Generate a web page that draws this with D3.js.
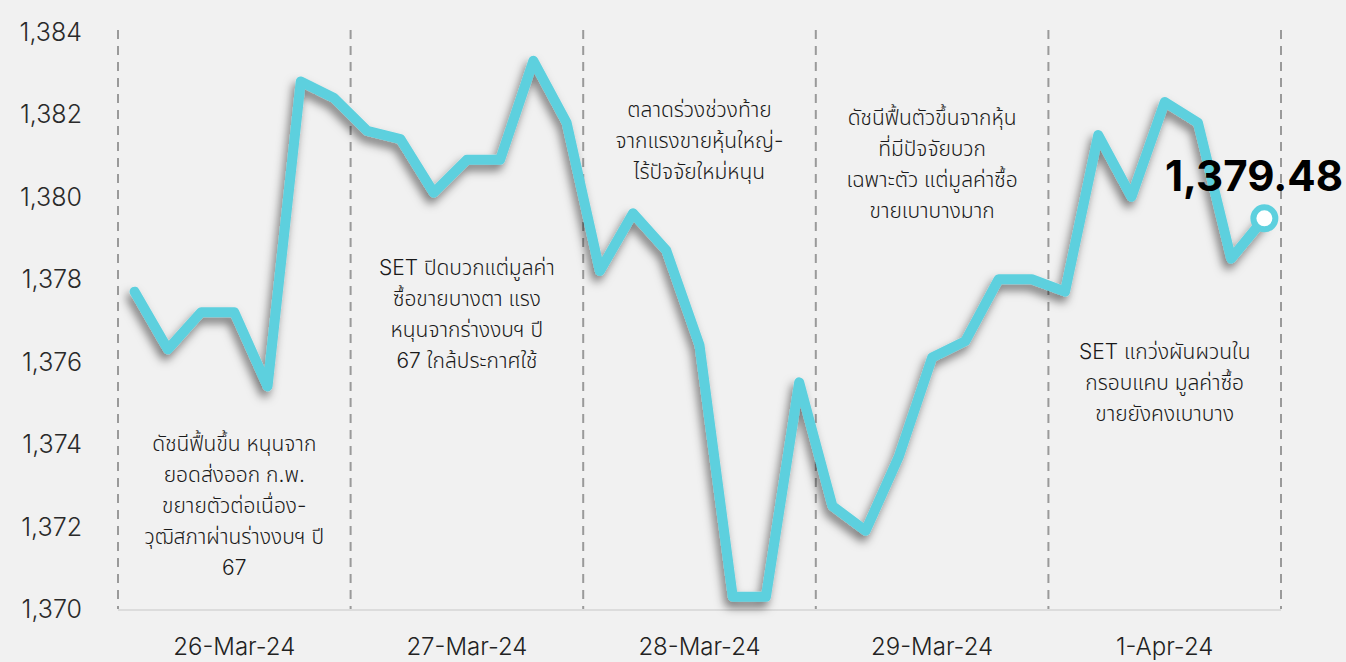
<!DOCTYPE html>
<html>
<head>
<meta charset="utf-8">
<script src="https://cdn.jsdelivr.net/npm/d3@7"></script>
<style>
  body { margin: 0; background: #f1f1f1; }
  svg { display: block; font-family: Inter, "Noto Sans Thai", "Noto Sans", sans-serif; }
</style>
</head>
<body>
<div id="chart"></div>
<script>
// trading days and SET index readings (7 per day)
const days = ["26-Mar-24", "27-Mar-24", "28-Mar-24", "29-Mar-24", "1-Apr-24"];
const setIndex = [
  1377.7, 1376.3, 1377.2, 1377.2, 1375.4, 1382.8, 1382.4,
  1381.6, 1381.4, 1380.1, 1380.9, 1380.9, 1383.3, 1381.8,
  1378.2, 1379.6, 1378.7, 1376.4, 1370.3, 1370.3, 1375.5,
  1372.5, 1371.9, 1373.7, 1376.1, 1376.5, 1378.0, 1378.0,
  1377.7, 1381.5, 1380.0, 1382.3, 1381.8, 1378.5, 1379.48
];
const yTicks = [1370, 1372, 1374, 1376, 1378, 1380, 1382, 1384];
const lastLabel = "1,379.48";
const notes = [
  ["ดัชนีฟื้นขึ้น หนุนจาก", "ยอดส่งออก ก.พ.", "ขยายตัวต่อเนื่อง-", "วุฒิสภาผ่านร่างงบฯ ปี", "67"],
  ["SET ปิดบวกแต่มูลค่า", "ซื้อขายบางตา แรง", "หนุนจากร่างงบฯ ปี", "67 ใกล้ประกาศใช้"],
  ["ตลาดร่วงช่วงท้าย", "จากแรงขายหุ้นใหญ่-", "ไร้ปัจจัยใหม่หนุน"],
  ["ดัชนีฟื้นตัวขึ้นจากหุ้น", "ที่มีปัจจัยบวก", "เฉพาะตัว แต่มูลค่าซื้อ", "ขายเบาบางมาก"],
  ["SET แกว่งผันผวนใน", "กรอบแคบ มูลค่าซื้อ", "ขายยังคงเบาบาง"]
];

const width = 1346, height = 662;
const m = { left: 118, right: 1281, top: 32, bottom: 609 };
const perDay = 7;
const noteTop = [444, 268, 110, 118, 352]; // first line centre of each note

const svg = d3.select("#chart").append("svg")
  .attr("width", width)
  .attr("height", height);

const defs = svg.append("defs");
const shadow = defs.append("filter").attr("id", "shadow")
  .attr("x", "-10%").attr("y", "-10%").attr("width", "120%").attr("height", "130%");
shadow.append("feDropShadow")
  .attr("dx", -3).attr("dy", 6).attr("stdDeviation", 5)
  .attr("flood-color", "#000").attr("flood-opacity", 0.5);

const xDay = d3.scaleBand().domain(days).range([m.left, m.right]);
const x = d3.scaleLinear().domain([-0.5, days.length * perDay - 0.5]).range([m.left, m.right]);
const y = d3.scaleLinear().domain([1370, 1384]).range([m.bottom, m.top]);

// baseline
svg.append("line")
  .attr("x1", m.left).attr("x2", m.right)
  .attr("y1", m.bottom + 1).attr("y2", m.bottom + 1)
  .attr("stroke", "#dcdcdc").attr("stroke-width", 2);

// dashed day separators
const bounds = days.map(d => xDay(d)).concat([m.right]);
svg.selectAll(".sep")
  .data(bounds)
  .enter()
  .append("line")
  .attr("class", "sep")
  .attr("x1", d => d).attr("x2", d => d)
  .attr("y1", m.top - 2).attr("y2", m.bottom)
  .attr("stroke", "#9a9a9a")
  .attr("stroke-width", 2)
  .attr("stroke-dasharray", "9,7");

// y axis labels
svg.selectAll(".ytick")
  .data(yTicks)
  .enter()
  .append("text")
  .attr("class", "ytick")
  .attr("x", 82)
  .attr("y", d => y(d))
  .attr("dy", "0.36em")
  .attr("text-anchor", "end")
  .style("font-size", "25px")
  .style("font-weight", 300)
  .style("fill", "#2a2a2a")
  .text(d => d3.format(",")(d));

// x axis labels
svg.selectAll(".xtick")
  .data(days)
  .enter()
  .append("text")
  .attr("class", "xtick")
  .attr("x", d => xDay(d) + xDay.bandwidth() / 2)
  .attr("y", 655)
  .attr("text-anchor", "middle")
  .style("font-size", "24px")
  .style("font-weight", 300)
  .style("fill", "#222")
  .text(d => d);

// notes
notes.forEach((lines, i) => {
  const t = svg.append("text")
    .attr("text-anchor", "middle")
    .style("font-size", "21px")
    .style("font-weight", 300)
    .style("fill", "#1a1a1a");
  lines.forEach((l, j) => {
    t.append("tspan")
      .attr("x", xDay(days[i]) + xDay.bandwidth() / 2)
      .attr("y", noteTop[i] + j * 31)
      .attr("dy", "0.35em")
      .text(l);
  });
});

// index line
const line = d3.line()
  .x((d, i) => x(i))
  .y(d => y(d));

svg.append("path")
  .datum(setIndex)
  .attr("d", line)
  .attr("fill", "none")
  .attr("stroke", "#5dd0de")
  .attr("stroke-width", 10)
  .attr("stroke-linejoin", "round")
  .attr("stroke-linecap", "round")
  .attr("filter", "url(#shadow)");

// last point marker and value
const li = setIndex.length - 1;
svg.append("circle")
  .attr("cx", x(li))
  .attr("cy", y(setIndex[li]))
  .attr("r", 11)
  .attr("fill", "#fff")
  .attr("stroke", "#5dd0de")
  .attr("stroke-width", 6);

svg.append("text")
  .attr("x", 1343)
  .attr("y", 191)
  .attr("text-anchor", "end")
  .style("font-size", "42px")
  .style("font-weight", 700)
  .style("fill", "#000")
  .text(lastLabel);
</script>
</body>
</html>
